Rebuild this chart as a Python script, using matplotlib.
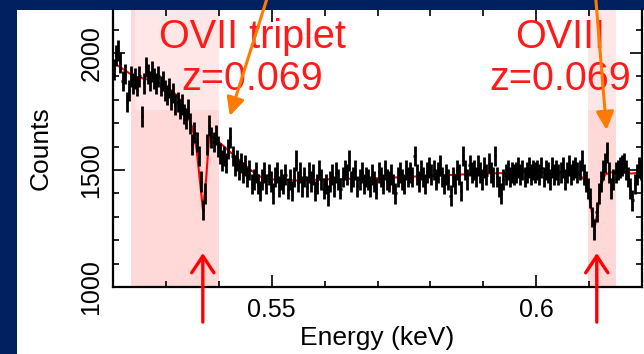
import matplotlib
matplotlib.use('Agg')
import matplotlib.pyplot as plt
from matplotlib.patches import Rectangle
from matplotlib.ticker import MultipleLocator
import numpy as np

plt.rcParams['font.family'] = ['Liberation Sans', 'DejaVu Sans']

# ---------------- data ----------------
bin_start = 0.5202     # keV, centre of first bin
bin_width = 0.0004     # keV
counts = [
    1930, 1990, 2010, 1960, 1880, 1910, 1790, 1840, 1900, 1870,   # 0.520-0.524
    1890, 1860, 1900, 1730, 1870, 1940, 1910, 1880, 1920, 1890,   # 0.524-0.528
    1870, 1900, 1860, 1880, 1840, 1820, 1850, 1800, 1830, 1780,   # 0.528-0.532
    1790, 1760, 1780, 1740, 1720, 1760, 1700, 1610, 1660, 1620,   # 0.532-0.536
    1560, 1450, 1330, 1400, 1610, 1690, 1640, 1620, 1650, 1600,   # 0.536-0.540
    1570, 1540, 1560, 1530, 1590, 1640, 1560, 1520, 1540, 1500,   # 0.540-0.544
    1530, 1490, 1520, 1470, 1500, 1440, 1460, 1490, 1440, 1410,   # 0.544-0.548
    1460, 1490, 1440, 1480, 1450, 1400, 1470, 1490, 1430, 1460,   # 0.548-0.552
    1440, 1480, 1420, 1460, 1410, 1470, 1540, 1450, 1490, 1430,   # 0.552-0.556
    1470, 1430, 1490, 1450, 1480, 1410, 1440, 1500, 1460, 1420,   # 0.556-0.560
    1440, 1390, 1450, 1480, 1430, 1490, 1460, 1420, 1470, 1500,   # 0.560-0.564
    1480, 1540, 1450, 1470, 1500, 1430, 1460, 1490, 1440, 1470,   # 0.564-0.568
    1460, 1430, 1480, 1450, 1420, 1490, 1470, 1440, 1500, 1460,   # 0.568-0.572
    1450, 1480, 1440, 1400, 1470, 1490, 1460, 1440, 1500, 1470,   # 0.572-0.576
    1490, 1470, 1560, 1480, 1450, 1500, 1470, 1440, 1490, 1510,   # 0.576-0.580
    1480, 1500, 1460, 1490, 1520, 1470, 1440, 1480, 1460, 1390,   # 0.580-0.584
    1470, 1440, 1500, 1480, 1410, 1560, 1500, 1460, 1520, 1490,   # 0.584-0.588
    1500, 1470, 1520, 1490, 1460, 1510, 1480, 1530, 1490, 1470,   # 0.588-0.592
    1560, 1470, 1430, 1400, 1460, 1480, 1500, 1470, 1490, 1480,   # 0.592-0.596
    1490, 1510, 1480, 1500, 1470, 1490, 1510, 1480, 1500, 1490,   # 0.596-0.600
    1500, 1480, 1510, 1470, 1500, 1490, 1460, 1510, 1480, 1500,   # 0.600-0.604
    1480, 1490, 1510, 1460, 1490, 1520, 1480, 1500, 1510, 1490,   # 0.604-0.608
    1500, 1540, 1480, 1450, 1420, 1380, 1300, 1245, 1320, 1400,   # 0.608-0.612
    1450, 1500, 1530, 1575, 1490, 1420, 1460, 1490, 1500, 1510,   # 0.612-0.616
    1520, 1530, 1500, 1470, 1420, 1370, 1440, 1480, 1510, 1500,   # 0.616-0.620
]
count_err = 44   # half-height of the error bars (counts)

model_energy = [0.5200, 0.5220, 0.5240, 0.5260, 0.5280, 0.5300, 0.5320, 0.5330,
                0.5340, 0.5350, 0.5358, 0.5364, 0.5370, 0.5376, 0.5382, 0.5390,
                0.5400, 0.5420, 0.5440, 0.5460, 0.5480, 0.5500, 0.5550, 0.5600,
                0.5700, 0.5800, 0.5900, 0.6000, 0.6060, 0.6080, 0.6090, 0.6100,
                0.6106, 0.6111, 0.6116, 0.6122, 0.6130, 0.6140, 0.6160, 0.6180,
                0.6200]
model_counts = [1960, 1930, 1900, 1890, 1880, 1860, 1820, 1790,
                1740, 1680, 1590, 1460, 1330, 1460, 1650, 1640,
                1620, 1580, 1540, 1500, 1470, 1460, 1455, 1460,
                1465, 1475, 1485, 1490, 1490, 1485, 1460, 1390,
                1310, 1260, 1320, 1430, 1480, 1490, 1490, 1485,
                1490]

bands = [(0.5234, 0.5400), (0.6098, 0.6151)]
line_labels = ['OVII triplet', 'OVIII']
line_z = 'z=0.069'
label_x = [0.5464, 0.6045]
absorption_e = [0.53698, 0.61145]
orange_tip = [(0.54208, 1731), (0.6133, 1671)]
orange_tail = [(0.54962, 2269), (0.61113, 2269)]

# ---------------- figure ----------------
W, H = 644, 354
fig = plt.figure(figsize=(W / 100, H / 100), dpi=100, facecolor='#002060')
fig.patches.append(Rectangle((17 / W, 0), (W - 17) / W, (H - 10) / H,
                             transform=fig.transFigure, facecolor='white',
                             edgecolor='none', zorder=-10))
ax = fig.add_axes([113 / W, 67 / H, 529 / W, 277 / H])
ax.set_zorder(1)
ax.set_facecolor('white')

ax.set_xlim(0.52, 0.62)
ax.set_ylim(1000, 2184)

for lo, hi in bands:
    ax.axvspan(lo, hi, color='#ffd8d8', lw=0, zorder=0)
# translucent boxes behind the labels
ax.add_patch(Rectangle((0.5242, 1757), 0.0445, 500, facecolor='white',
                       alpha=0.4, edgecolor='none', zorder=0.5))
ax.add_patch(Rectangle((0.5823, 1757), 0.0445, 500, facecolor='white',
                       alpha=0.4, edgecolor='none', zorder=0.5))

energy = bin_start + bin_width * np.arange(len(counts))
ax.plot(model_energy, model_counts, color='red', lw=1.5, zorder=2)
ax.errorbar(energy, counts, xerr=bin_width / 2, yerr=count_err, fmt='none',
            ecolor='black', elinewidth=2.0, capsize=0, zorder=3)

# labels of the lines
for lab, xc in zip(line_labels, label_x):
    ax.text(xc, 2021, lab, color='#ff1a1a', fontsize=28.5, ha='center',
            va='baseline', zorder=5)
    ax.text(xc, 1842, line_z, color='#ff1a1a', fontsize=28.5, ha='center',
            va='baseline', zorder=5)

# red arrows below
for e in absorption_e:
    ax.annotate('', xy=(e, 1145), xytext=(e, 850), annotation_clip=False,
                arrowprops=dict(arrowstyle='->,head_length=0.6,head_width=0.4',
                                color='red', lw=2.4, mutation_scale=20,
                                shrinkA=0, shrinkB=0), zorder=6)
# orange arrows from above
for tip, tail in zip(orange_tip, orange_tail):
    ax.annotate('', xy=tip, xytext=tail, annotation_clip=False,
                arrowprops=dict(arrowstyle='-|>,head_length=0.55,head_width=0.27',
                                color='#ff7b00', lw=2.2, mutation_scale=20,
                                shrinkA=0, shrinkB=0), zorder=6)

# axes styling
ax.set_xticks([0.55, 0.6])
ax.set_xticklabels(['0.55', '0.6'])
ax.xaxis.set_minor_locator(MultipleLocator(0.01))
ax.set_yticks([1000, 1500, 2000])
ax.set_yticklabels(['1000', '1500', '2000'])
ax.yaxis.set_minor_locator(MultipleLocator(100))
ax.tick_params(which='both', direction='in', top=True, right=True, width=1.2,
               color='black')
ax.tick_params(which='major', length=8.5, labelsize=18)
ax.tick_params(which='minor', length=4.5)
ax.tick_params(axis='x', which='major', pad=8)
ax.tick_params(axis='y', which='major', pad=7, labelrotation=90)
for t in ax.get_yticklabels():
    t.set_va('center')
for s in ['left', 'right', 'bottom']:
    ax.spines[s].set_linewidth(1.6)
ax.spines['top'].set_visible(False)

ax.set_xlabel('Energy (keV)', fontsize=19)
ax.set_ylabel('Counts', fontsize=19)
ax.xaxis.set_label_coords(0.5, -0.14)
ax.yaxis.set_label_coords(-0.115, 0.5)

fig.savefig('out.png', dpi=100, facecolor=fig.get_facecolor())
